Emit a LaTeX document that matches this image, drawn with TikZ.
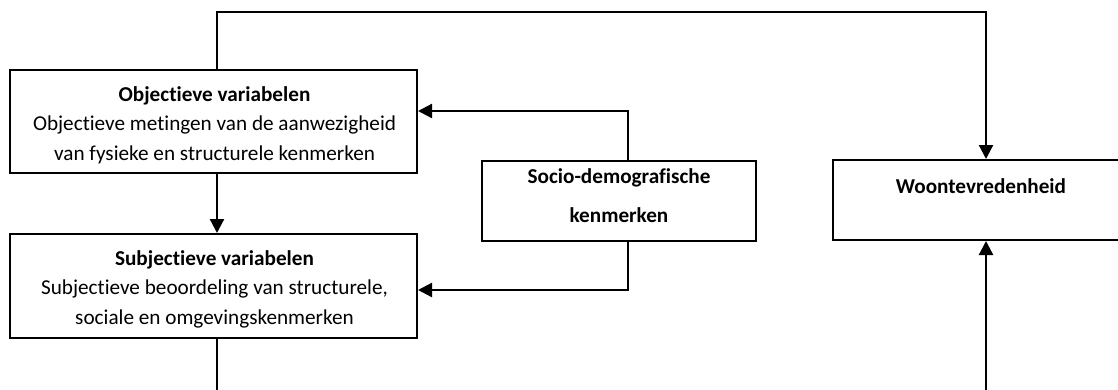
\documentclass[tikz,border=0pt]{standalone}
\usepackage{fontspec}
\setmainfont{Carlito}[Ligatures=NoCommon]
\usetikzlibrary{arrows.meta}
\begin{document}
\begin{tikzpicture}[x=1pt,y=-1pt,
  box/.style={draw=black, line width=2pt, rectangle, inner sep=0pt},
  txt/.style={align=center, inner sep=0pt, font=\fontsize{21.2}{29.5}\selectfont},
  txtwide/.style={align=center, inner sep=0pt, font=\fontsize{21.2}{39}\selectfont},
  arr/.style={line width=2.3pt, -{Triangle[length=14pt,width=14pt]}},
  ln/.style={line width=2.3pt}]
\useasboundingbox (0,0) rectangle (1118,389);
% boxes
\node[box, minimum width=407pt, minimum height=103pt] (obj) at (213.5,121.5) {};
\node[box, minimum width=407pt, minimum height=104pt] (sub) at (213.5,286) {};
\node[box, minimum width=274pt, minimum height=80pt] (soc) at (619,201) {};
\node[box, minimum width=296pt, minimum height=80pt] (woon) at (981,200) {};
% texts (anchor base = baseline of the last line)
\node[txt, anchor=base] (objT) at (214.5,160) {\textbf{Objectieve variabelen}\\Objectieve metingen van de aanwezigheid\\van fysieke en structurele kenmerken};
\node[txt, anchor=base] (subT) at (214.5,324) {\textbf{Subjectieve variabelen}\\Subjectieve beoordeling van structurele,\\sociale en omgevingskenmerken};
\node[txtwide, anchor=base] (socT) at (619,222) {\textbf{Socio-demografische}\\\textbf{kenmerken}};
\node[txt, anchor=base] (woonT) at (981,193) {\textbf{Woontevredenheid}};
% helper coordinates
\coordinate (topL) at (217,12);
\coordinate (topR) at (986,12);
\coordinate (socUp) at (628,111);
\coordinate (socDown) at (628,290);
\coordinate (botL) at (217,392);
\coordinate (botR) at (986,392);
% connectors
\draw[arr] (obj.north -| topL) -- (topL) -- (topR) -- (woon.north -| topR);
\draw[arr] (obj.south -| topL) -- (sub.north -| topL);
\draw[arr] (soc.north -| socUp) -- (socUp) -- (obj.east |- socUp);
\draw[arr] (soc.south -| socDown) -- (socDown) -- (sub.east |- socDown);
\draw[ln] (sub.south -| botL) -- (botL);
\draw[arr] (botR) -- (woon.south -| botR);
\end{tikzpicture}
\end{document}
